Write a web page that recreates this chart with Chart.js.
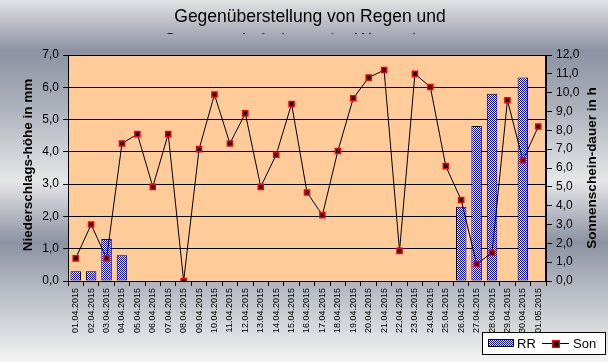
<!DOCTYPE html>
<html>
<head>
<meta charset="utf-8">
<script src="https://cdn.jsdelivr.net/npm/chart.js@4.4.1/dist/chart.umd.min.js"></script>
<style>
  html, body { margin: 0; padding: 0; background: #fff; }
  canvas { display: block; }
</style>
</head>
<body>
<canvas id="chart" width="608" height="362"></canvas>
<script>
// Daten: Tage, Niederschlag (mm) und Sonnenscheindauer (h)
const tage = [
  '01.04.2015', '02.04.2015', '03.04.2015', '04.04.2015', '05.04.2015', '06.04.2015',
  '07.04.2015', '08.04.2015', '09.04.2015', '10.04.2015', '11.04.2015', '12.04.2015',
  '13.04.2015', '14.04.2015', '15.04.2015', '16.04.2015', '17.04.2015', '18.04.2015',
  '19.04.2015', '20.04.2015', '21.04.2015', '22.04.2015', '23.04.2015', '24.04.2015',
  '25.04.2015', '26.04.2015', '27.04.2015', '28.04.2015', '29.04.2015', '30.04.2015',
  '01.05.2015'
];
const regen = [0.3, 0.3, 1.3, 0.8, 0, 0, 0, 0, 0, 0, 0, 0, 0, 0, 0, 0,
  0, 0, 0, 0, 0, 0, 0, 0, 0, 2.3, 4.8, 5.8, 0, 6.3, 0];
const sonne = [1.2, 3.0, 1.2, 7.3, 7.8, 5.0, 7.8, 0.0, 7.0, 9.9, 7.3, 8.9, 5.0, 6.7, 9.4, 4.7,
  3.5, 6.9, 9.7, 10.8, 11.2, 1.6, 11.0, 10.3, 6.1, 4.3, 0.9, 1.5, 9.6, 6.4, 8.2];

const titel1 = 'Gegenüberstellung von Regen und';
const titel2 = 'Sonnenscheindauer der Wetterdaten';
const titelLinks = 'Niederschlags-höhe in mm';
const titelRechts = 'Sonnenschein-dauer in h';

// Karomuster fuer die Balken (blau/weiss)
function karo() {
  const c = document.createElement('canvas');
  c.width = 2; c.height = 2;
  const g = c.getContext('2d');
  g.fillStyle = '#ffffff';
  g.fillRect(0, 0, 2, 2);
  g.fillStyle = '#0000ff';
  g.fillRect(0, 0, 1, 1);
  g.fillRect(1, 1, 1, 1);
  return g.createPattern(c, 'repeat');
}

const ctx = document.getElementById('chart').getContext('2d');
const muster = karo();
const komma = v => Number(v).toFixed(1).replace('.', ',');

const deko = {
  id: 'deko',
  beforeDraw(chart) {
    const c = chart.ctx;
    const a = chart.chartArea;
    // Hintergrund wie Metall
    const gr = c.createLinearGradient(0, 0, 0, chart.height);
    gr.addColorStop(0.0, '#e2e2e4');
    gr.addColorStop(0.14, '#8c92a2');
    gr.addColorStop(0.30, '#aeb2bc');
    gr.addColorStop(0.50, '#e6e6e8');
    gr.addColorStop(0.67, '#8c92a2');
    gr.addColorStop(0.82, '#bcc0c8');
    gr.addColorStop(1.0, '#f4f4f4');
    c.save();
    c.fillStyle = gr;
    c.fillRect(0, 0, chart.width, chart.height);
    c.fillStyle = '#ffcc99';
    c.fillRect(a.left, a.top, a.right - a.left, a.bottom - a.top);
    c.restore();
  },
  afterDraw(chart) {
    const c = chart.ctx;
    const a = chart.chartArea;
    c.save();
    // Rahmen
    c.strokeStyle = '#000';
    c.lineWidth = 1;
    c.strokeRect(Math.round(a.left) + 0.5, Math.round(a.top) + 0.5,
      Math.round(a.right - a.left) - 1, Math.round(a.bottom - a.top));

    // Titel (zweite Zeile abgeschnitten wie im Original)
    c.fillStyle = '#000';
    c.textAlign = 'center';
    c.textBaseline = 'alphabetic';
    c.font = '17.5px "Liberation Sans", Arial, sans-serif';
    c.fillText(titel1, 310, 22);
    c.save();
    c.beginPath();
    c.rect(0, 0, chart.width, 34);
    c.clip();
    c.fillText(titel2, 307, 46);
    c.restore();

    // Achsentitel
    c.font = 'bold 13.5px "Liberation Sans", Arial, sans-serif';
    c.textBaseline = 'middle';
    c.save();
    c.translate(28, 165);
    c.rotate(-Math.PI / 2);
    c.fillText(titelLinks, 0, 0);
    c.restore();
    c.save();
    c.translate(592, 168);
    c.rotate(-Math.PI / 2);
    c.fillText(titelRechts, 0, 0);
    c.restore();

    // Legende
    c.fillStyle = '#fff';
    c.fillRect(482, 332, 124, 22);
    c.strokeRect(482.5, 332.5, 123, 22);
    c.fillStyle = muster;
    c.fillRect(488, 339, 26, 8);
    c.strokeStyle = '#000';
    c.strokeRect(488.5, 339.5, 25, 7);
    c.beginPath();
    c.moveTo(542, 343.5);
    c.lineTo(569, 343.5);
    c.stroke();
    c.fillStyle = 'red';
    c.fillRect(552, 340, 8, 8);
    c.fillStyle = '#000';
    c.fillRect(553.5, 341.5, 5, 5);
    c.font = '13px "Liberation Sans", Arial, sans-serif';
    c.textAlign = 'left';
    c.textBaseline = 'middle';
    c.fillText('RR', 517, 344);
    c.fillText('Son', 573, 344);
    c.restore();
  }
};

new Chart(ctx, {
  type: 'bar',
  data: {
    labels: tage,
    datasets: [
      {
        type: 'line',
        label: 'Son',
        data: sonne,
        yAxisID: 'y1',
        order: 0,
        borderColor: '#000',
        borderWidth: 1,
        tension: 0,
        pointStyle: 'rect',
        pointRadius: 3.6,
        pointBackgroundColor: '#000',
        pointBorderColor: '#ff0000',
        pointBorderWidth: 1.5
      },
      {
        type: 'bar',
        label: 'RR',
        data: regen,
        yAxisID: 'y',
        order: 1,
        backgroundColor: muster,
        borderColor: '#000',
        borderWidth: 1,
        borderSkipped: false,
        barPercentage: 0.68,
        categoryPercentage: 1.0
      }
    ]
  },
  options: {
    responsive: false,
    animation: false,
    devicePixelRatio: 1,
    layout: { padding: { top: 55, left: 0, right: 0, bottom: 0 } },
    plugins: {
      legend: { display: false },
      title: { display: false },
      tooltip: { enabled: false }
    },
    scales: {
      x: {
        offset: true,
        grid: { offset: true, drawOnChartArea: false, color: '#000', tickLength: 5 },
        border: { color: '#000' },
        ticks: {
          autoSkip: false,
          minRotation: 90,
          maxRotation: 90,
          padding: 2,
          color: '#000',
          font: { family: '"Liberation Sans", Arial, sans-serif', size: 9 }
        },
        afterFit(s) { s.height = 81; }
      },
      y: {
        position: 'left',
        min: 0,
        max: 7,
        ticks: {
          stepSize: 1,
          padding: 4,
          color: '#000',
          callback: komma,
          font: { family: '"Liberation Sans", Arial, sans-serif', size: 12 }
        },
        grid: { color: '#000', tickLength: 5 },
        border: { color: '#000' },
        afterFit(s) { s.width = 68; }
      },
      y1: {
        position: 'right',
        min: 0,
        max: 12,
        ticks: {
          stepSize: 1,
          padding: 4,
          color: '#000',
          callback: komma,
          font: { family: '"Liberation Sans", Arial, sans-serif', size: 12 }
        },
        grid: { drawOnChartArea: false, color: '#000', tickLength: 6 },
        border: { color: '#000' },
        afterFit(s) { s.width = 62; }
      }
    }
  },
  plugins: [deko]
});
</script>
</body>
</html>
